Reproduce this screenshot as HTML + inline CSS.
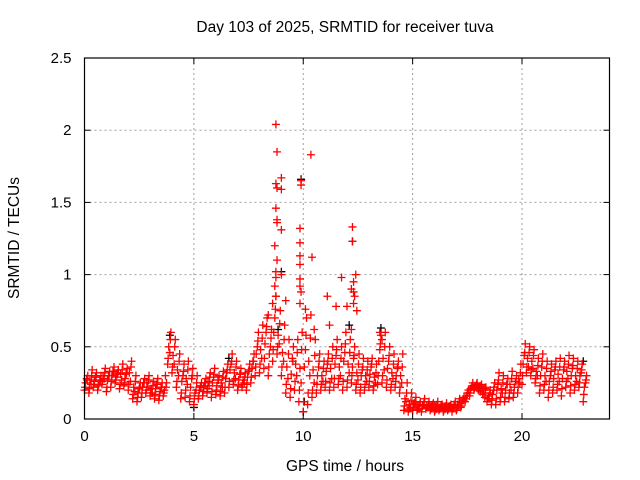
<!DOCTYPE html>
<html><head><meta charset="utf-8"><style>
body{margin:0;background:#fff}
svg{display:block;font-family:"Liberation Sans",sans-serif}
</style></head><body>
<svg id="chart" width="640" height="480" viewBox="0 0 640 480">
<rect x="0" y="0" width="640" height="480" fill="#fff"/>
<text x="345" y="32" font-size="15.5" text-anchor="middle">Day 103 of 2025, SRMTID for receiver tuva</text>
<text x="345" y="471" font-size="15.5" text-anchor="middle">GPS time / hours</text>
<text transform="translate(19,238) rotate(-90)" font-size="15.5" text-anchor="middle">SRMTID / TECUs</text>
<g id="grid"></g>
<g id="black"></g>
<g id="red"></g>
<g id="axes"></g>
</svg>
<script>
const xTicks=[0,5,10,15,20];
const yTicks=[0,0.5,1,1.5,2,2.5];
const yTickLabels=["0","0.5","1","1.5","2","2.5"];
const step=0.2;
const lo=[.20,.18,.22,.20,.24,.19,.22,.25,.21,.23,.20,.14,.12,.15,.18,.16,.14,.13,.16,.38,.32,.22,.14,.15,.12,.10,.14,.16,.18,.15,.17,.16,.18,.22,.24,.20,.22,.20,.25,.30,.32,.35,.30,.40,.45,.30,.18,.15,.20,.12,.05,.10,.15,.18,.20,.22,.20,.22,.24,.20,.22,.25,.20,.18,.20,.22,.20,.24,.25,.22,.20,.22,.18,.06,.05,.06,.06,.05,.07,.06,.05,.06,.05,.06,.05,.06,.08,.12,.16,.20,.20,.17,.12,.10,.10,.12,.12,.14,.15,.18,.24,.32,.30,.25,.18,.20,.15,.18,.20,.16,.22,.18,.20,.22,.12];
const hi=[.30,.34,.32,.30,.35,.33,.36,.34,.38,.35,.40,.30,.25,.28,.30,.26,.28,.25,.25,.60,.55,.45,.38,.40,.35,.30,.25,.28,.32,.35,.30,.33,.38,.45,.40,.35,.32,.38,.45,.60,.65,.70,.62,.85,.75,.65,.55,.50,.55,.60,.70,.72,.55,.45,.40,.45,.50,.55,.50,.60,.55,.50,.45,.42,.40,.42,.38,.58,.60,.50,.45,.40,.45,.25,.18,.15,.12,.14,.12,.11,.12,.10,.11,.10,.12,.14,.15,.20,.25,.25,.24,.22,.20,.25,.32,.30,.28,.33,.30,.38,.52,.50,.48,.42,.45,.40,.38,.40,.42,.40,.44,.42,.40,.38,.30];
const mid=[.25,.27,.26,.24,.30,.27,.30,.29,.31,.28,.32,.22,.18,.22,.25,.21,.21,.19,.20,.50,.44,.34,.26,.28,.22,.18,.20,.22,.26,.25,.23,.25,.28,.34,.32,.27,.27,.29,.35,.45,.48,.52,.45,.60,.58,.46,.36,.31,.38,.35,.36,.40,.34,.30,.30,.33,.35,.38,.36,.40,.38,.36,.32,.30,.30,.31,.29,.40,.42,.35,.32,.30,.30,.14,.10,.10,.09,.09,.09,.08,.08,.08,.08,.08,.08,.10,.11,.16,.21,.23,.22,.20,.16,.17,.20,.21,.20,.24,.22,.28,.38,.42,.40,.33,.30,.30,.26,.28,.31,.28,.33,.30,.30,.30,.22];
const mid2=[.28,.24,.29,.27,.28,.30,.33,.31,.27,.31,.26,.19,.21,.25,.22,.18,.24,.22,.30,.46,.38,.30,.30,.24,.28,.20,.22,.25,.23,.29,.27,.22,.32,.38,.28,.31,.25,.33,.40,.50,.42,.60,.50,.70,.52,.40,.28,.42,.30,.25,.48,.30,.25,.36,.26,.38,.28,.44,.30,.46,.32,.42,.27,.34,.26,.36,.25,.48,.34,.40,.28,.35,.25,.12,.08,.11,.07,.10,.08,.09,.07,.09,.07,.09,.10,.09,.13,.18,.22,.22,.19,.15,.14,.20,.24,.18,.24,.20,.26,.25,.44,.36,.35,.30,.36,.26,.30,.34,.26,.34,.28,.35,.26,.32,.25];
const q1=[.22,.21,.24,.23,.26,.22,.26,.27,.24,.25,.24,.17,.15,.18,.20,.18,.17,.16,.18,.42,.36,.26,.18,.20,.16,.14,.16,.19,.21,.19,.20,.19,.22,.26,.27,.23,.24,.24,.29,.36,.38,.42,.36,.48,.50,.36,.24,.21,.26,.20,.12,.18,.20,.24,.24,.26,.25,.28,.28,.26,.27,.30,.24,.22,.24,.26,.23,.30,.30,.27,.24,.26,.22,.09,.07,.08,.07,.07,.08,.07,.06,.07,.06,.07,.07,.07,.09,.14,.18,.21,.21,.18,.14,.13,.14,.15,.15,.18,.18,.22,.30,.36,.34,.28,.23,.24,.20,.22,.24,.21,.26,.23,.24,.25,.17];
const q3=[.27,.30,.29,.27,.32,.30,.33,.32,.34,.32,.36,.26,.22,.25,.27,.23,.25,.22,.22,.55,.50,.40,.33,.34,.30,.25,.23,.25,.29,.31,.27,.29,.34,.40,.36,.31,.29,.34,.40,.54,.56,.64,.56,.76,.66,.55,.45,.40,.46,.48,.58,.56,.44,.40,.35,.40,.42,.48,.42,.52,.46,.44,.38,.36,.34,.38,.32,.52,.50,.44,.38,.36,.36,.18,.13,.12,.10,.12,.10,.10,.10,.09,.09,.09,.10,.12,.13,.18,.23,.24,.23,.21,.18,.22,.27,.25,.24,.28,.26,.32,.46,.46,.44,.37,.40,.35,.33,.36,.36,.36,.38,.37,.35,.34,.27];
const outT=[8.75,8.8,8.75,8.8,9.0,9.0,8.75,8.8,8.8,9.0,8.7,8.8,8.75,8.75,9.0,8.7,8.75,9.9,9.9,9.85,9.85,9.85,9.85,9.85,9.85,9.9,9.85,10.35,10.4,11.1,11.75,12.25,12.25,12.4,12.3,12.2,12.3,12.35,12.3,12.45,12.0,11.5,11.2,12.2,13.5,13.6,8.4,8.6,9.2,10.1,10.5];
const outV=[2.04,1.85,1.63,1.60,1.67,1.59,1.46,1.38,1.36,1.31,1.20,1.10,1.02,0.98,1.00,0.92,0.85,1.65,1.62,1.32,1.22,1.13,1.07,0.97,0.92,0.88,0.80,1.83,1.12,0.85,0.98,1.33,1.23,1.00,0.95,0.90,0.88,0.85,0.80,0.75,0.78,0.78,0.65,0.62,0.60,0.55,0.72,0.80,0.82,0.76,0.62];
const blkT=[9.0,9.9,12.25,13.55,8.85,10.0,22.8,10.05,5.0,3.9,6.6,12.1];
const blkV=[1.02,1.66,1.23,0.63,0.62,0.05,0.40,0.12,0.08,0.58,0.42,0.65];

const X0=84.5,X1=609.5,Y0=419,Y1=58,XMAX=24,YMAX=2.5;
const sx=v=>X0+v/XMAX*(X1-X0);
const sy=v=>Y0-v/YMAX*(Y0-Y1);
const NS="http://www.w3.org/2000/svg";
function mk(tag,attrs,parent){const e=document.createElementNS(NS,tag);for(const k in attrs)e.setAttribute(k,attrs[k]);parent.appendChild(e);return e;}
const grid=document.getElementById('grid'),axes=document.getElementById('axes');
xTicks.forEach((t,i)=>{
  const x=sx(t);
  if(t>0){const g=mk('line',{x1:x,x2:x,y1:Y1,y2:Y0,stroke:'#a0a0a0','stroke-dasharray':'2,3','stroke-width':1},grid);
  
  }
  mk('line',{x1:x,x2:x,y1:Y0,y2:Y0-6,stroke:'#000'},axes);
  mk('line',{x1:x,x2:x,y1:Y1,y2:Y1+6,stroke:'#000'},axes);
  const l=mk('text',{x:x,y:Y0+22,'font-size':15,'text-anchor':'middle'},axes);l.textContent=String(t);
  
  
});
yTicks.forEach((t,i)=>{
  const y=sy(t);
  if(t>0&&t<YMAX){const g=mk('line',{x1:X0,x2:X1,y1:y,y2:y,stroke:'#a0a0a0','stroke-dasharray':'2,3','stroke-width':1},grid);
  
  }
  mk('line',{x1:X0,x2:X0+6,y1:y,y2:y,stroke:'#000'},axes);
  mk('line',{x1:X1,x2:X1-6,y1:y,y2:y,stroke:'#000'},axes);
  const l=mk('text',{x:X0-13,y:y+5,'font-size':15,'text-anchor':'end'},axes);l.textContent=yTickLabels[i];
  
  
});
const frame=mk('rect',{x:X0,y:Y1,width:X1-X0,height:Y0-Y1,fill:'none',stroke:'#000','stroke-width':1.2},axes);


function cross(g,t,v,col){
  const x=sx(t),y=sy(v);
  const p=mk('path',{d:`M${x-4},${y}H${x+4}M${x},${y-4}V${y+4}`,stroke:col,'stroke-width':1.3,fill:'none'},g);
  
  
}
const blk=document.getElementById('black'),red=document.getElementById('red');
blkT.forEach((t,i)=>cross(blk,t,blkV[i],'#000'));
lo.forEach((v,i)=>{
  const t=i*step;
  cross(red,t,v,'#f00');
  cross(red,t+0.025,q1[i],'#f00');
  cross(red,t+0.05,mid[i],'#f00');
  cross(red,t+0.1,mid2[i],'#f00');
  cross(red,t+0.125,q3[i],'#f00');
  cross(red,t+0.15,hi[i],'#f00');
});
outT.forEach((t,i)=>cross(red,t,outV[i],'#f00'));
</script>
</body></html>
